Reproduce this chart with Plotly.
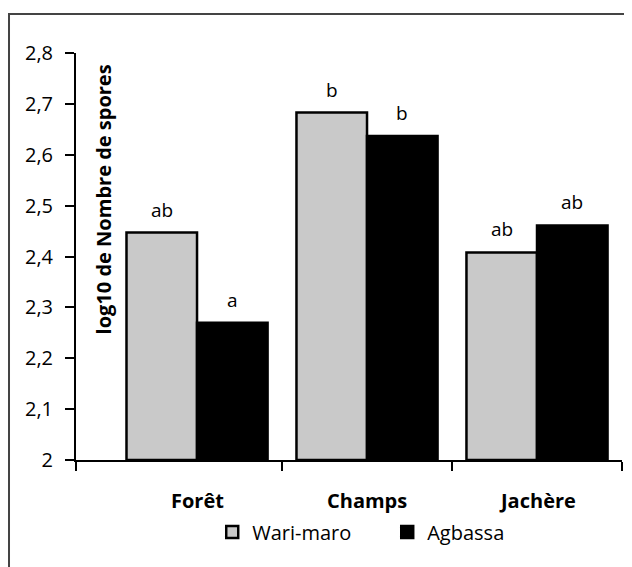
import plotly.graph_objects as go

categories = ["Forêt", "Champs", "Jachère"]
series_names = ["Wari-maro", "Agbassa"]
wari_values = [2.447, 2.683, 2.408]
agbassa_values = [2.27, 2.637, 2.461]
wari_letters = ["ab", "b", "ab"]
agbassa_letters = ["a", "b", "ab"]
y_ticks = [2.0, 2.1, 2.2, 2.3, 2.4, 2.5, 2.6, 2.7, 2.8]
y_title = "log10 de Nombre de spores"

FONT = "Open Sans, Liberation Sans, sans-serif"
bargap = 0.17
half = (1 - bargap) / 4  # offset of each bar centre from category centre
x_idx = list(range(len(categories)))
x_left = -0.712
x_right = len(categories) - 0.5

fig = go.Figure()
fig.add_trace(go.Bar(
    x=x_idx, y=[v - 2 for v in wari_values], base=2, name=series_names[0],
    marker=dict(color="#c9c9c9", line=dict(color="black", width=2.5)),
))
fig.add_trace(go.Bar(
    x=x_idx, y=[v - 2 for v in agbassa_values], base=2, name=series_names[1],
    marker=dict(color="black", line=dict(color="black", width=2.5)),
))

annotations = []
for i, (v, t) in enumerate(zip(wari_values, wari_letters)):
    annotations.append(dict(x=i - half, y=v, text=t, showarrow=False, yshift=23,
                            xanchor="center", yanchor="middle",
                            font=dict(size=19, color="black", family=FONT)))
for i, (v, t) in enumerate(zip(agbassa_values, agbassa_letters)):
    annotations.append(dict(x=i + half, y=v, text=t, showarrow=False, yshift=23,
                            xanchor="center", yanchor="middle",
                            font=dict(size=19, color="black", family=FONT)))
for i, c in enumerate(categories):
    annotations.append(dict(x=i, y=0, yref="paper", text="<b>" + c + "</b>", showarrow=False,
                            xanchor="center", yanchor="middle", yshift=-40,
                            font=dict(size=20, color="black", family=FONT)))
annotations.append(dict(x=0.05, xref="paper", y=0.641, yref="paper", text="<b>" + y_title + "</b>",
                        textangle=-90, showarrow=False, xanchor="center", yanchor="middle",
                        font=dict(size=20, color="black", family=FONT)))

# page has an 8px body margin, so the figure is 8px smaller than the window
fig.update_layout(
    width=624, height=559,
    margin=dict(l=68, r=10, t=45, b=107),
    paper_bgcolor="white", plot_bgcolor="white",
    separators=", ",
    barmode="group", bargap=bargap, bargroupgap=0,
    showlegend=True,
    legend=dict(orientation="h", x=0.570, xanchor="center", y=-0.177, yanchor="middle",
                font=dict(size=20, color="black", family=FONT), itemwidth=30,
                entrywidth=130, traceorder="normal"),
    annotations=annotations,
    font=dict(family=FONT, color="black"),
)
fig.update_xaxes(range=[x_left, x_right], tickvals=[x_left, 0.5, 1.5, 2.5],
                 showticklabels=False, ticks="outside", ticklen=9, tickwidth=2, tickcolor="black",
                 showline=True, linecolor="black", linewidth=2, showgrid=False, zeroline=False)
fig.update_yaxes(range=[2.0, 2.8], tickvals=y_ticks,
                 ticktext=["2"] + [f"{t:.1f}".replace(".", ",") for t in y_ticks[1:]],
                 ticks="outside", ticklen=9, tickwidth=2, tickcolor="black",
                 ticklabelstandoff=8,
                 tickfont=dict(size=20, color="black", family=FONT),
                 showline=True, linecolor="black", linewidth=2, showgrid=False, zeroline=False)

fig.add_shape(type="rect", xref="paper", yref="paper", x0=-0.1227, x1=1.2, y0=-0.6, y1=1.0958,
              line=dict(color="#444444", width=2), fillcolor="rgba(0,0,0,0)", layer="below")

fig.write_html("out.html")
